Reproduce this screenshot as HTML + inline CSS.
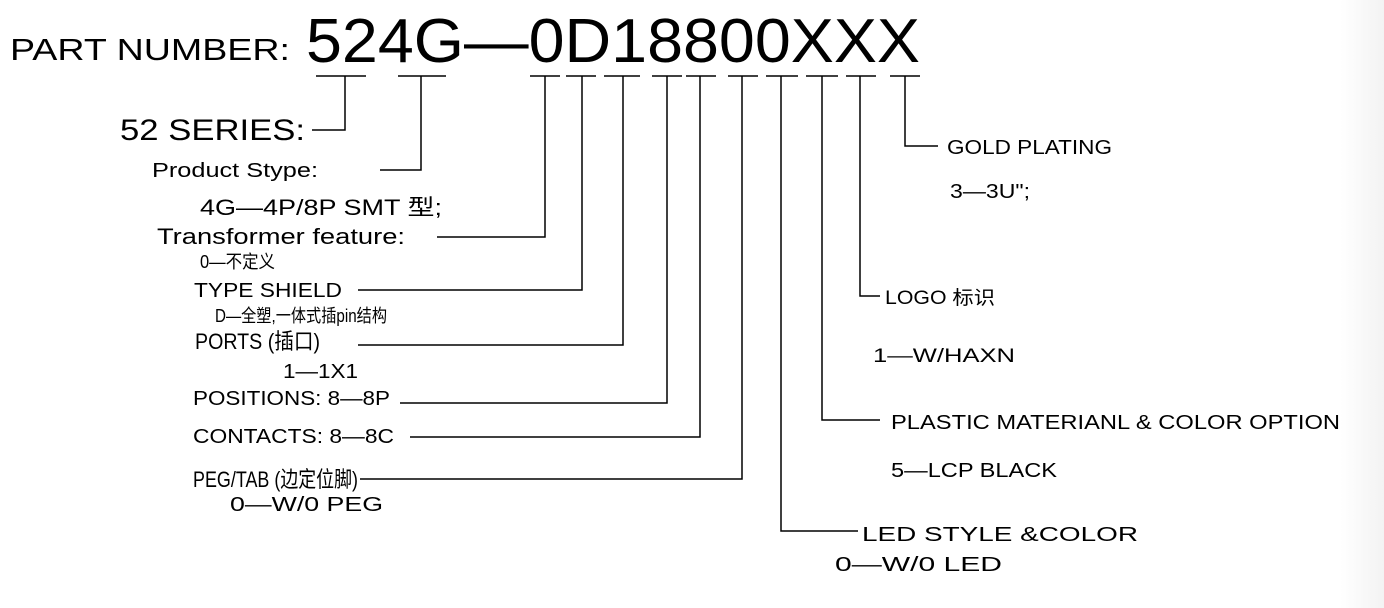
<!DOCTYPE html>
<html><head><meta charset="utf-8"><style>
html,body{margin:0;padding:0;background:#fff}
body{width:1384px;height:608px;overflow:hidden;background:linear-gradient(to right,#fff 1340px,#f3f3f3 1384px)}
svg{display:block}
text{font-family:"Liberation Sans","Noto Sans CJK SC",sans-serif;fill:#000}
</style></head><body>
<svg width="1384" height="608" viewBox="0 0 1384 608">
<g fill="none" stroke="#000" stroke-width="1.5">
<!-- T crossbars -->
<line x1="316" y1="76" x2="366" y2="76"/><line x1="398" y1="76" x2="446" y2="76"/>
<line x1="530" y1="76" x2="560" y2="76"/><line x1="566" y1="76" x2="596" y2="76"/>
<line x1="604" y1="76" x2="640" y2="76"/><line x1="652" y1="76" x2="682" y2="76"/>
<line x1="686" y1="76" x2="716" y2="76"/><line x1="728" y1="76" x2="758" y2="76"/>
<line x1="766" y1="76" x2="798" y2="76"/><line x1="806" y1="76" x2="838" y2="76"/>
<line x1="846" y1="76" x2="876" y2="76"/><line x1="890" y1="76" x2="920" y2="76"/>
<!-- connectors -->
<polyline points="345,76 345,130 312,130"/>
<polyline points="421,76 421,170 380,170"/>
<polyline points="545,76 545,237 437,237"/>
<polyline points="582,76 582,290 358,290"/>
<polyline points="623,76 623,345 358,345"/>
<polyline points="667,76 667,403 400,403"/>
<polyline points="700,76 700,437 410,437"/>
<polyline points="742,76 742,479 360,479"/>
<polyline points="781,76 781,531 858,531"/>
<polyline points="822,76 822,420 880,420"/>
<polyline points="860,76 860,296 880,296"/>
<polyline points="905,76 905,146 938,146"/>
</g>
<text x="10" y="60" font-size="31" textLength="280" lengthAdjust="spacingAndGlyphs">PART NUMBER:</text>
<text x="306" y="62" font-size="62" textLength="614" lengthAdjust="spacingAndGlyphs">524G—0D18800XXX</text>
<text x="120" y="140" font-size="30" textLength="185" lengthAdjust="spacingAndGlyphs">52 SERIES:</text>
<text x="152" y="177" font-size="20" textLength="166" lengthAdjust="spacingAndGlyphs">Product Stype:</text>
<text x="200" y="215" font-size="22" textLength="242" lengthAdjust="spacingAndGlyphs">4G—4P/8P SMT 型;</text>
<text x="157" y="244" font-size="22" textLength="248" lengthAdjust="spacingAndGlyphs">Transformer feature:</text>
<text x="200" y="268" font-size="18" textLength="75" lengthAdjust="spacingAndGlyphs">0—不定义</text>
<text x="194" y="297" font-size="20" textLength="148" lengthAdjust="spacingAndGlyphs">TYPE SHIELD</text>
<text x="215" y="322" font-size="18" textLength="172" lengthAdjust="spacingAndGlyphs">D—全塑,一体式插pin结构</text>
<text x="195" y="349" font-size="22" textLength="125" lengthAdjust="spacingAndGlyphs">PORTS (插口)</text>
<text x="283" y="378" font-size="20" textLength="75" lengthAdjust="spacingAndGlyphs">1—1X1</text>
<text x="193" y="405" font-size="20" textLength="197" lengthAdjust="spacingAndGlyphs">POSITIONS: 8—8P</text>
<text x="193" y="443" font-size="20" textLength="201" lengthAdjust="spacingAndGlyphs">CONTACTS: 8—8C</text>
<text x="193" y="487" font-size="22" textLength="165" lengthAdjust="spacingAndGlyphs">PEG/TAB (边定位脚)</text>
<text x="230" y="511" font-size="20" textLength="153" lengthAdjust="spacingAndGlyphs">0—W/0 PEG</text>
<text x="947" y="154" font-size="20" textLength="165" lengthAdjust="spacingAndGlyphs">GOLD PLATING</text>
<text x="950" y="198" font-size="20" textLength="80" lengthAdjust="spacingAndGlyphs">3—3U";</text>
<text x="885" y="304" font-size="19" textLength="110" lengthAdjust="spacingAndGlyphs">LOGO 标识</text>
<text x="873" y="362" font-size="19" textLength="142" lengthAdjust="spacingAndGlyphs">1—W/HAXN</text>
<text x="891" y="429" font-size="20" textLength="449" lengthAdjust="spacingAndGlyphs">PLASTIC MATERIANL &amp; COLOR OPTION</text>
<text x="891" y="477" font-size="20" textLength="166" lengthAdjust="spacingAndGlyphs">5—LCP BLACK</text>
<text x="862" y="541" font-size="20" textLength="276" lengthAdjust="spacingAndGlyphs">LED STYLE &amp;COLOR</text>
<text x="835" y="571" font-size="20" textLength="167" lengthAdjust="spacingAndGlyphs">0—W/0 LED</text>
</svg>
</body></html>
